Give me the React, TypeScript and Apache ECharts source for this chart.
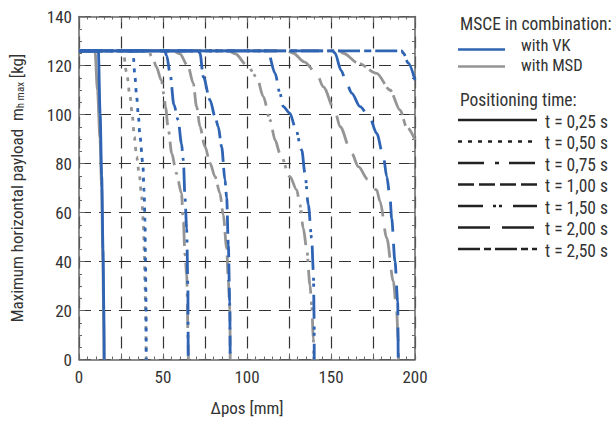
import React, { useEffect, useRef } from 'react';
import * as echarts from 'echarts';

const BLUE = '#2e64b3';
const GRAY = '#959595';
const TXT = '#333333';
const AX = '#666666';
const FONT = "'Liberation Sans Narrow', 'Roboto Condensed', 'DejaVu Sans Condensed', Roboto, sans-serif";

const timeLabels = ['t = 0,25 s', 't = 0,50 s', 't = 0,75 s', 't = 1,00 s', 't = 1,50 s', 't = 2,00 s', 't = 2,50 s'];
const xTickValues = [0, 50, 100, 150, 200];

// MSCE with VK (blue)
const vk025 = [[0, 126], [11.5, 126], [12.6, 100], [13.5, 75], [14.3, 45], [14.8, 20], [15, 0]];
const vk050 = [[0, 126], [31, 126], [32.3, 124], [33.3, 115.4], [34.3, 107.3], [35.3, 99.8], [36.3, 90.9], [38, 80], [38.7, 69], [39.3, 57], [39.5, 43], [39.9, 23], [40, 0]];
const vk075 = [[0, 126], [51, 126], [52.2, 124], [54.2, 116.8], [56.5, 104], [59, 97.8], [61, 88.2], [62.1, 81.4], [63.1, 66], [64.1, 53.5], [64.8, 30], [65, 0]];
const vk100 = [[0, 126], [70.5, 126], [72, 125], [74, 115.4], [78, 105.9], [81, 99.1], [82.9, 95], [84.9, 86.9], [86.9, 73.3], [87.9, 66], [88.9, 46.7], [89.7, 23.6], [90, 0]];
const vk150 = [[0, 126], [112, 126], [112.7, 125], [116.7, 116.8], [119.6, 108.7], [121.6, 103.2], [125.6, 100.5], [128.6, 95], [132.6, 85.5], [134.5, 76], [136.5, 63.1], [138.5, 49.5], [139.5, 35.8], [140, 15], [140, 0]];
const vk200 = [[0, 126], [151, 126], [152.4, 125], [156, 118], [159.3, 112.7], [162.3, 108.7], [167.3, 103.2], [173.2, 98.4], [177.2, 92.3], [181.2, 82.8], [183.2, 74.6], [185.1, 66.4], [186.1, 57.6], [188.1, 40], [189.7, 23.6], [190, 0]];
const vk250 = [[0, 126], [192, 126], [193.1, 125], [196, 121], [200, 114]];

// MSCE with MSD (gray)
const msd025 = [[0, 126], [9.5, 126], [11, 110], [12.5, 90], [13.5, 70], [14.2, 40], [14.7, 15], [14.9, 0]];
const msd050 = [[0, 126], [25, 126], [26.4, 125], [28.4, 116.8], [30.4, 107.3], [31.7, 99.8], [32.9, 90.9], [34.3, 82.8], [35.8, 76], [37.3, 66.4], [38.3, 55.6], [38.9, 43.3], [39.3, 29.7], [39.7, 18], [40, 0]];
const msd075 = [[0, 126], [41, 126], [44, 123], [46, 119.5], [49, 114], [50.6, 108], [51.5, 103], [53.2, 93.7], [55.2, 84.2], [58, 76], [61, 67.8], [62.1, 56.2], [63.1, 42.7], [64.1, 34.5], [65, 7], [65.1, 0]];
const msd100 = [[0, 126], [56, 126], [60, 124.8], [65, 119.5], [68, 112.7], [70, 103.2], [72, 95], [75, 86.9], [78, 80.1], [81, 74.6], [83.9, 67.8], [85.9, 59], [87.9, 45.4], [88.9, 31.8], [89.8, 20], [90, 0]];
const msd150 = [[0, 126], [89, 126], [93, 124.8], [99.8, 120.2], [105.8, 115.4], [109.7, 107.3], [113.7, 97.8], [116.7, 89.6], [119.6, 84.2], [125.6, 74.6], [129.6, 69.2], [131.5, 63.1], [133.5, 53.6], [135.5, 45.4], [137.5, 30.4], [138.5, 22.2], [139.5, 8.7], [139.8, 0]];
const msd200 = [[0, 126], [124, 126], [127.6, 125], [134, 121.5], [141.5, 116.8], [145.4, 111.3], [152.4, 101.3], [155.4, 95], [162.3, 84.2], [166.3, 78.7], [172, 73.5], [177.2, 69.2], [179.2, 64.4], [183.2, 49.5], [187.1, 31.8], [189.1, 19.5], [190, 8], [190.2, 0]];
const msd250 = [[0, 126], [155, 126], [157.3, 125], [166.3, 120.9], [177.2, 116.8], [185.1, 110], [191.1, 101.8], [195, 95], [200, 89.6]];

const vkSeries = [vk025, vk050, vk075, vk100, vk150, vk200, vk250];
const msdSeries = [msd025, msd050, msd075, msd100, msd150, msd200, msd250];

const dashes: any[] = ['solid', [4, 6], [24, 7, 3, 7], [18, 6], [24, 8, 3, 3, 3, 8], [30, 12], [22, 4, 7, 4]];
const legendDashes: any[] = [null, [4, 6], [26, 11, 4, 10], [16, 5], [25, 10, 3, 3, 3, 11], [32, 12], [22, 4, 7, 4]];

export default function App() {
  const ref = useRef<HTMLDivElement>(null);
  useEffect(() => {
    if (!ref.current) return;
    const chart = echarts.init(ref.current, undefined, { renderer: 'svg' });

    const mk = (name: string, data: number[][], color: string, dash: any) => ({
      type: 'line',
      name,
      data,
      showSymbol: false,
      symbol: 'none',
      smooth: 0.3,
      smoothMonotone: 'x',
      clip: true,
      lineStyle: { color, width: 2.8, type: dash, cap: 'butt' },
      emphasis: { disabled: true },
    });

    const series: any[] = [];
    msdSeries.forEach((d, i) => series.push(mk('MSD ' + timeLabels[i], d, GRAY, dashes[i])));
    vkSeries.forEach((d, i) => series.push(mk('VK ' + timeLabels[i], d, BLUE, dashes[i])));

    const graphic: any[] = [];
    const txt = (x: number, y: number, text: string, fs = 17.5) => ({
      type: 'text', x, y,
      style: { text, fill: TXT, fontSize: fs, lineHeight: 15, fontFamily: FONT, verticalAlign: 'middle', align: 'left' },
    });
    const ln = (x1: number, x2: number, y: number, color: string, dash: any) => ({
      type: 'line',
      shape: { x1, y1: y, x2, y2: y },
      style: { stroke: color, lineWidth: 2.6, lineDash: dash || null },
    });
    graphic.push(txt(460, 24, 'MSCE in combination:'));
    graphic.push(ln(458, 505, 49.5, BLUE, null));
    graphic.push(txt(521, 45.5, 'with VK', 16.5));
    graphic.push(ln(458, 505, 66.5, GRAY, null));
    graphic.push(txt(521, 65, 'with MSD', 16.5));
    graphic.push(txt(460, 100, 'Positioning time:'));
    timeLabels.forEach((t, i) => {
      const yc = 121.5 + i * 21.5;
      graphic.push(ln(458, 537, yc - 1.5, '#222222', legendDashes[i]));
      graphic.push(txt(545, yc, t));
    });

    const gridDash = { type: [12, 8], color: '#333333', width: 1.2 };
    const axisLine = { show: true, onZero: false, lineStyle: { color: AX, width: 1.5 } };
    const tick = { show: true, inside: true, length: 6, lineStyle: { color: AX, width: 1 } };
    const labelStyle = { fontFamily: FONT, fontSize: 17, color: TXT };

    chart.setOption({
      animation: false,
      grid: { left: 79, right: 200, top: 16.5, bottom: 68.5, containLabel: false },
      xAxis: [
        {
          type: 'value', min: 0, max: 200, interval: 25, position: 'bottom',
          name: 'Δpos [mm]', nameLocation: 'middle', nameGap: 40,
          nameTextStyle: { ...labelStyle },
          axisLine, axisTick: tick,
          minorTick: { show: true, splitNumber: 5, length: 3, lineStyle: { color: AX } },
          axisLabel: {
            ...labelStyle, margin: 9,
            formatter: (v: number) => (xTickValues.indexOf(v) >= 0 ? String(v) : ''),
          },
          splitLine: { show: true, lineStyle: gridDash },
        },
        {
          type: 'value', min: 0, max: 200, interval: 25, position: 'top',
          axisLine, axisTick: tick,
          minorTick: { show: true, splitNumber: 5, length: 3, lineStyle: { color: AX } },
          axisLabel: { show: false },
          splitLine: { show: false },
        },
      ],
      yAxis: [
        {
          type: 'value', min: 0, max: 140, interval: 20, position: 'left',
          name: 'Maximum horizontal payload  m{s|h max} [kg]', nameLocation: 'middle', nameGap: 53,
          nameTextStyle: { ...labelStyle, rich: { s: { fontFamily: FONT, fontSize: 11, color: TXT, padding: [8, 0, 0, 0] } } },
          axisLine, axisTick: tick,
          minorTick: { show: true, splitNumber: 4, length: 3, lineStyle: { color: AX } },
          axisLabel: { ...labelStyle, margin: 7 },
          splitLine: { show: true, lineStyle: gridDash },
        },
        {
          type: 'value', min: 0, max: 140, interval: 20, position: 'right',
          axisLine, axisTick: tick,
          minorTick: { show: true, splitNumber: 4, length: 3, lineStyle: { color: AX } },
          axisLabel: { show: false },
          splitLine: { show: false },
        },
      ],
      series,
      graphic,
    });
    return () => chart.dispose();
  }, []);
  return <div ref={ref} style={{ position: 'absolute', left: 0, top: 0, width: 615, height: 428 }} />;
}
